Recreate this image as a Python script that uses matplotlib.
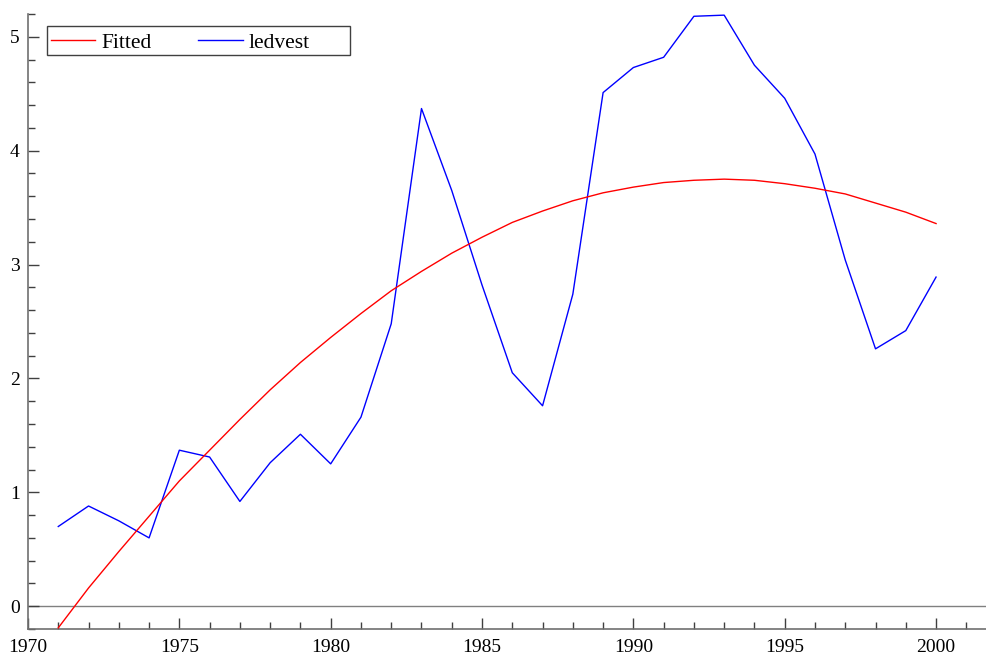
import matplotlib
matplotlib.use("Agg")
import matplotlib.pyplot as plt
from matplotlib.patches import Rectangle
from matplotlib.ticker import MultipleLocator

# annual series and quadratic trend
years = list(range(1971, 2001))
ledvest = [0.70, 0.88, 0.75, 0.60, 1.37, 1.31, 0.92, 1.26, 1.51, 1.25,
           1.66, 2.48, 4.37, 3.65, 2.82, 2.05, 1.76, 2.74, 4.51, 4.73,
           4.82, 5.18, 5.19, 4.75, 4.46, 3.97, 3.04, 2.26, 2.42, 2.89]
fitted = [-0.19, 0.16, 0.48, 0.79, 1.10, 1.37, 1.64, 1.90, 2.14, 2.36,
          2.57, 2.77, 2.94, 3.10, 3.24, 3.37, 3.47, 3.56, 3.63, 3.68,
          3.72, 3.74, 3.75, 3.74, 3.71, 3.67, 3.62, 3.54, 3.46, 3.36]

plt.rcParams["font.family"] = ["Liberation Serif", "DejaVu Serif"]
plt.rcParams["font.size"] = 14

fig = plt.figure(figsize=(9.87, 6.59), dpi=100)
ax = fig.add_axes([28 / 987, 30 / 659, 958 / 987, 615 / 659])

ax.axhline(0, color="#808080", lw=1.0, zorder=1)
ax.plot(years, fitted, color="red", lw=1.0, label="Fitted", zorder=3)
ax.plot(years, ledvest, color="blue", lw=1.0, label="ledvest", zorder=2)

ax.set_xlim(1970, 2001.65)
ax.set_ylim(-0.2, 5.2)
ax.xaxis.set_major_locator(MultipleLocator(5))
ax.xaxis.set_minor_locator(MultipleLocator(1))
ax.yaxis.set_major_locator(MultipleLocator(1))
ax.yaxis.set_minor_locator(MultipleLocator(0.2))

for side in ("top", "right"):
    ax.spines[side].set_visible(False)
for side in ("left", "bottom"):
    ax.spines[side].set_color("#707070")
    ax.spines[side].set_linewidth(1.2)

ax.tick_params(which="both", direction="in", color="#404040", width=1.0)
ax.tick_params(which="major", length=8, pad=7)
ax.tick_params(which="minor", length=5)
ax.tick_params(axis="y", pad=6)

# fixed-size legend box, entries placed inside it
box = Rectangle((0.0198, 0.933), 0.316, 0.047, transform=ax.transAxes,
                facecolor="white", edgecolor="#404040", lw=1.0, zorder=5)
ax.add_patch(box)
leg = ax.legend(loc="center left", ncol=2, frameon=False,
                bbox_to_anchor=(0.0198, 0.953), borderaxespad=0,
                handlelength=2.05, columnspacing=2.15, borderpad=0.2,
                handletextpad=0.3, fontsize=15.5)
leg.set_zorder(6)

fig.savefig("out.png", dpi=100)
